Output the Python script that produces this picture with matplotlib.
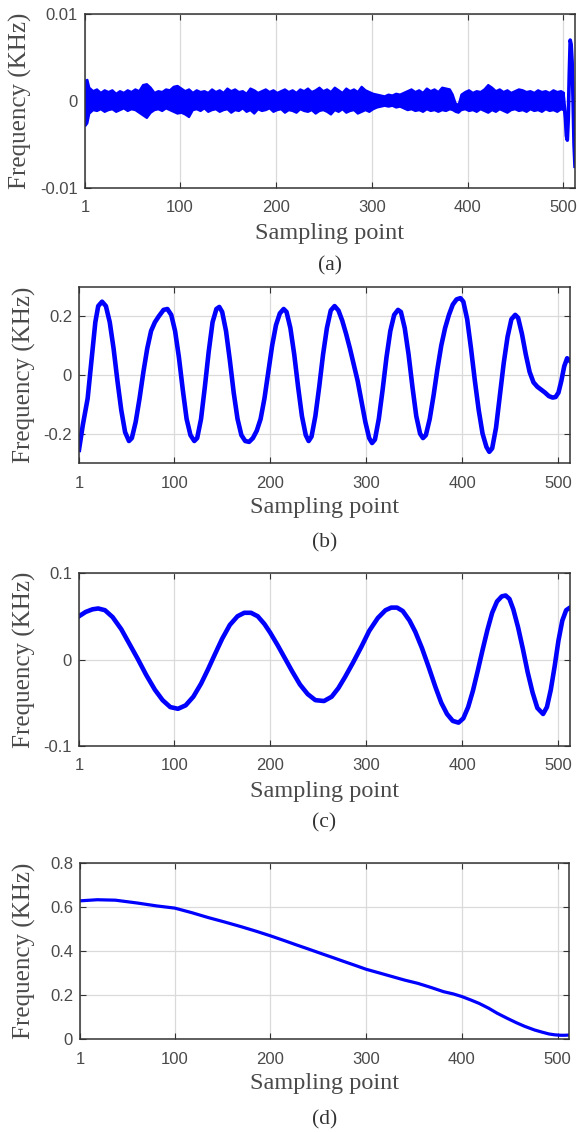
import numpy as np
import matplotlib as mpl
mpl.use('Agg')
import matplotlib.pyplot as plt

W, H = 579, 1132
blue = '#0000ff'

xticks = [1, 100, 200, 300, 400, 500]

# (a) noise band: envelope of the dense oscillation, values in 1e-3 KHz
a_x = [1, 3, 5, 9, 13, 17, 21, 25, 29, 33, 37, 41, 45, 49, 53, 57, 61, 65, 69, 73,
       77, 81, 85, 89, 93, 97, 101, 105, 109, 113, 117, 121, 125, 129, 133, 137, 141, 145,
       149, 153, 157, 161, 165, 169, 173, 177, 181, 185, 189, 193, 197, 201, 205, 209,
       213, 217, 221, 225, 229, 233, 237, 241, 245, 249, 253, 257, 261, 265, 269, 273,
       277, 281, 285, 289, 293, 297, 301, 305, 309, 313, 317, 321, 325, 329, 333, 337,
       341, 345, 349, 353, 357, 361, 365, 369, 373, 377, 381, 384, 387, 390, 393, 397,
       401, 405, 409, 413, 417, 421, 425, 429, 433, 437, 441, 445, 449, 453, 457, 461,
       465, 469, 473, 477, 481, 485, 489, 493, 497, 500]
a_hi = [2.4, 2.5, 1.6, 1.2, 1.4, 1.0, 1.3, 1.1, 1.3, 0.9, 1.2, 1.0, 1.3, 1.1, 1.4, 1.2, 1.9, 2.0, 1.6, 1.0,
        1.2, 1.1, 1.4, 1.3, 1.7, 1.8, 1.5, 1.2, 1.4, 1.0, 1.3, 1.1, 1.2, 1.0, 1.4, 1.1, 1.3, 1.0,
        1.5, 1.2, 1.4, 1.1, 1.2, 0.9, 1.5, 1.3, 1.0, 1.2, 1.4, 1.1, 1.3, 1.0, 1.2, 1.4,
        1.1, 1.3, 1.0, 1.4, 1.2, 1.5, 1.1, 1.3, 1.6, 1.2, 1.4, 1.1, 1.6, 1.3, 1.0, 1.5,
        1.2, 1.4, 1.1, 1.7, 1.3, 1.1, 0.9, 0.8, 0.7, 0.6, 0.8, 0.7, 0.9, 0.8, 1.0, 1.2,
        1.4, 1.1, 1.3, 1.0, 1.5, 1.2, 1.4, 1.1, 1.6, 1.5, 1.4, 0.8, -0.2, -0.4, 0.8, 1.1,
        1.3, 1.0, 1.2, 1.1, 1.4, 1.9, 1.6, 1.2, 1.4, 1.1, 1.3, 1.0, 1.2, 1.4, 1.3, 1.1,
        1.2, 1.0, 1.3, 1.1, 1.2, 1.0, 1.3, 1.1, 1.2, 1.0]
a_lo = [-2.8, -2.5, -1.4, -1.0, -1.1, -0.9, -1.2, -1.0, -0.9, -1.2, -1.0, -0.8, -1.1, -0.9, -1.0, -1.3, -1.6, -1.9, -1.3, -1.0,
        -0.9, -1.1, -0.8, -1.0, -1.2, -1.4, -1.3, -1.5, -1.8, -1.0, -0.9, -1.1, -0.8, -1.2, -1.0, -0.9, -1.2, -1.0,
        -0.9, -1.3, -1.0, -1.1, -0.8, -1.2, -1.0, -1.4, -0.9, -1.1, -1.0, -0.8, -1.2, -1.0, -0.9, -1.3,
        -1.0, -1.1, -1.3, -0.9, -1.1, -1.2, -1.0, -1.4, -1.1, -1.0, -1.2, -1.5, -1.0, -1.2, -0.9, -1.3,
        -1.1, -1.0, -1.4, -1.2, -1.0, -1.2, -0.9, -0.7, -0.6, -0.5, -0.6, -0.5, -0.7, -0.6, -0.8, -1.0,
        -0.9, -1.1, -1.0, -1.2, -0.9, -1.1, -1.0, -1.2, -1.0, -1.1, -0.9, -1.0, -1.2, -1.3, -1.0, -0.9,
        -1.1, -1.0, -1.2, -0.9, -1.1, -1.3, -1.0, -1.2, -0.9, -1.1, -1.3, -1.0, -0.9, -1.1, -1.0, -1.2,
        -0.9, -1.1, -1.0, -1.2, -0.9, -1.1, -1.0, -1.2, -0.9, -1.0]
# (a) last samples, single swing
a_end_x = [500, 501, 502, 503, 504, 505, 506, 507, 508, 509, 510, 511, 512]
a_end_y = [0.3, -0.8, -2.0, -4.0, -4.5, -2.0, 3.0, 7.0, 6.5, 4.5, 0.0, -5.0, -7.5]

b_x = [1, 5, 10, 14, 18, 21, 25, 29, 33, 37, 41, 45, 49, 53, 56, 60, 64, 68, 72, 76,
       80, 84, 89, 93, 97, 101, 105, 109, 113, 117, 121, 124, 128, 132, 136, 140, 144, 147,
       150, 154, 158, 162, 166, 170, 174, 178, 182, 186, 190, 194, 198, 202, 206, 210, 214,
       217, 221, 225, 229, 233, 237, 240, 243, 247, 251, 255, 259, 263, 267, 271, 275, 279,
       283, 287, 291, 295, 299, 303, 306, 309, 313, 317, 321, 325, 329, 333, 336, 340, 344,
       348, 352, 356, 359, 362, 366, 370, 374, 378, 382, 386, 390, 394, 398, 401, 405, 409,
       413, 417, 421, 425, 428, 431, 435, 439, 443, 447, 451, 455, 458, 462, 466, 470, 474,
       478, 482, 486, 490, 494, 497, 500, 503, 506, 509, 512]
b_y = [-0.255, -0.17, -0.08, 0.05, 0.18, 0.235, 0.25, 0.235, 0.18, 0.09, -0.02, -0.12, -0.195, -0.225, -0.215, -0.16, -0.08, 0.01, 0.09, 0.15,
       0.18, 0.20, 0.222, 0.225, 0.205, 0.15, 0.06, -0.05, -0.15, -0.205, -0.225, -0.215, -0.15, -0.04, 0.08, 0.18, 0.225, 0.232,
       0.215, 0.15, 0.05, -0.06, -0.15, -0.205, -0.225, -0.228, -0.215, -0.19, -0.15, -0.08, 0.01, 0.10, 0.17, 0.21, 0.225,
       0.215, 0.16, 0.07, -0.04, -0.14, -0.205, -0.225, -0.21, -0.14, -0.04, 0.07, 0.16, 0.22, 0.235, 0.22, 0.185, 0.14,
       0.09, 0.035, -0.02, -0.09, -0.16, -0.215, -0.232, -0.22, -0.15, -0.05, 0.06, 0.15, 0.205, 0.222, 0.215, 0.16, 0.07,
       -0.04, -0.14, -0.20, -0.215, -0.205, -0.15, -0.07, 0.02, 0.10, 0.16, 0.205, 0.24, 0.258, 0.262, 0.25, 0.19, 0.09,
       -0.02, -0.12, -0.20, -0.245, -0.262, -0.25, -0.18, -0.07, 0.04, 0.13, 0.19, 0.205, 0.195, 0.14, 0.07, 0.01, -0.025,
       -0.04, -0.05, -0.06, -0.072, -0.077, -0.075, -0.06, -0.02, 0.03, 0.057, 0.048]

c_x = [1, 8, 15, 21, 28, 36, 45, 53, 62, 71, 80, 88, 96, 104, 112, 120, 128, 135, 142,
       150, 158, 166, 173, 180, 187, 194, 200, 208, 216, 223, 231, 239, 247, 256, 264, 271,
       278, 286, 295, 303, 312, 320, 326, 332, 338, 345, 351, 358, 365, 372, 378, 384, 390,
       396, 401, 406, 411, 416, 421, 426, 431, 436, 441, 445, 449, 453, 458, 463, 468, 473,
       478, 484, 488, 492, 496, 500, 504, 508, 512]
c_y = [0.050, 0.055, 0.058, 0.059, 0.057, 0.049, 0.035, 0.019, 0.001, -0.018, -0.035, -0.047, -0.055, -0.057, -0.053, -0.043, -0.028, -0.012, 0.005,
       0.024, 0.040, 0.050, 0.054, 0.054, 0.050, 0.041, 0.031, 0.016, 0.000, -0.014, -0.029, -0.040, -0.047, -0.048, -0.043, -0.033,
       -0.020, -0.004, 0.015, 0.033, 0.048, 0.057, 0.060, 0.060, 0.056, 0.045, 0.032, 0.013, -0.009, -0.032, -0.050, -0.063, -0.071,
       -0.073, -0.068, -0.055, -0.036, -0.013, 0.011, 0.034, 0.054, 0.067, 0.073, 0.074, 0.070, 0.058, 0.037, 0.012, -0.015, -0.038,
       -0.056, -0.063, -0.055, -0.035, -0.008, 0.022, 0.045, 0.057, 0.060]

d_x = [1, 19, 38, 61, 81, 100, 118, 135, 152, 169, 185, 200, 214, 227, 241, 254, 266, 277,
       289, 300, 314, 327, 340, 354, 368, 381, 391, 400, 409, 418, 428, 437, 447, 457, 466,
       476, 484, 491, 497, 503, 508, 512]
d_y = [0.628, 0.633, 0.631, 0.618, 0.605, 0.595, 0.574, 0.552, 0.532, 0.511, 0.490, 0.469, 0.448, 0.428, 0.407, 0.387, 0.369, 0.352,
       0.334, 0.317, 0.300, 0.284, 0.268, 0.253, 0.234, 0.215, 0.205, 0.193, 0.178, 0.162, 0.140, 0.117, 0.095, 0.074, 0.057,
       0.041, 0.031, 0.023, 0.019, 0.017, 0.017, 0.018]

ylims = [(-0.01, 0.01), (-0.3, 0.3), (-0.1, 0.1), (0, 0.8)]
yticks = [[-0.01, 0, 0.01], [-0.2, 0, 0.2], [-0.1, 0, 0.1], [0, 0.2, 0.4, 0.6, 0.8]]
yticklabels = [['-0.01', '0', '0.01'], ['-0.2', '0', '0.2'], ['-0.1', '0', '0.1'],
               ['0', '0.2', '0.4', '0.6', '0.8']]
captions = ['(a)', '(b)', '(c)', '(d)']

# axes boxes in pixels: left, right, top, bottom
boxes = [(85, 575, 14, 188), (79, 570, 287, 463), (79, 570, 573, 746), (80, 569, 863, 1039)]
ylabel_x = [20, 24, 24, 24]
caption_y = [266, 543, 823, 1120]

fig = plt.figure(figsize=(W / 100, H / 100), dpi=100)
axs = []
for i, (l, r, t, b) in enumerate(boxes):
    ax = fig.add_axes([l / W, 1 - b / H, (r - l) / W, (b - t) / H])
    axs.append(ax)
    ax.set_xlim(1, 512)
    ax.set_ylim(*ylims[i])
    ax.set_xticks(xticks)
    ax.set_xticklabels([str(v) for v in xticks], family='Liberation Sans', fontsize=12, color='#4a4a4a')
    ax.set_yticks(yticks[i])
    ax.set_yticklabels(yticklabels[i], family='Liberation Sans', fontsize=12, color='#4a4a4a')
    ax.tick_params(direction='in', top=True, right=True, length=4, width=0.8, color='#333333')
    ax.tick_params(axis='x', pad=9)
    ax.tick_params(axis='y', pad=5)
    ax.grid(True, color='#dadada', lw=0.9)
    ax.set_axisbelow(True)
    for s in ax.spines.values():
        s.set_color('#333333')
        s.set_linewidth(1.1)
    ax.set_xlabel('Sampling point', family='Liberation Serif', fontsize=17.5, color='#4a4a4a', va='center')
    ax.xaxis.set_label_coords(0.5, -45 / (b - t))
    ax.set_ylabel('Frequency (KHz)', family='Liberation Serif', fontsize=18, color='#4a4a4a', va='center')
    ax.yaxis.set_label_coords((ylabel_x[i] - l) / (r - l), 0.5)
    fig.text((l + r) / 2 / W, 1 - caption_y[i] / H, captions[i], family='Liberation Serif',
             fontsize=15.5, color='#333333', ha='center', va='center')

ax = axs[0]
ax.fill_between(a_x, np.array(a_lo) * 1e-3, np.array(a_hi) * 1e-3, color=blue, lw=1.5)
ax.plot(a_end_x, np.array(a_end_y) * 1e-3, color=blue, lw=2.6)
axs[1].plot(b_x, b_y, color=blue, lw=3.3, solid_joinstyle='round')
axs[2].plot(c_x, c_y, color=blue, lw=3.3, solid_joinstyle='round')
axs[3].plot(d_x, d_y, color=blue, lw=2.3, solid_joinstyle='round')

fig.savefig('out.png', dpi=100)
